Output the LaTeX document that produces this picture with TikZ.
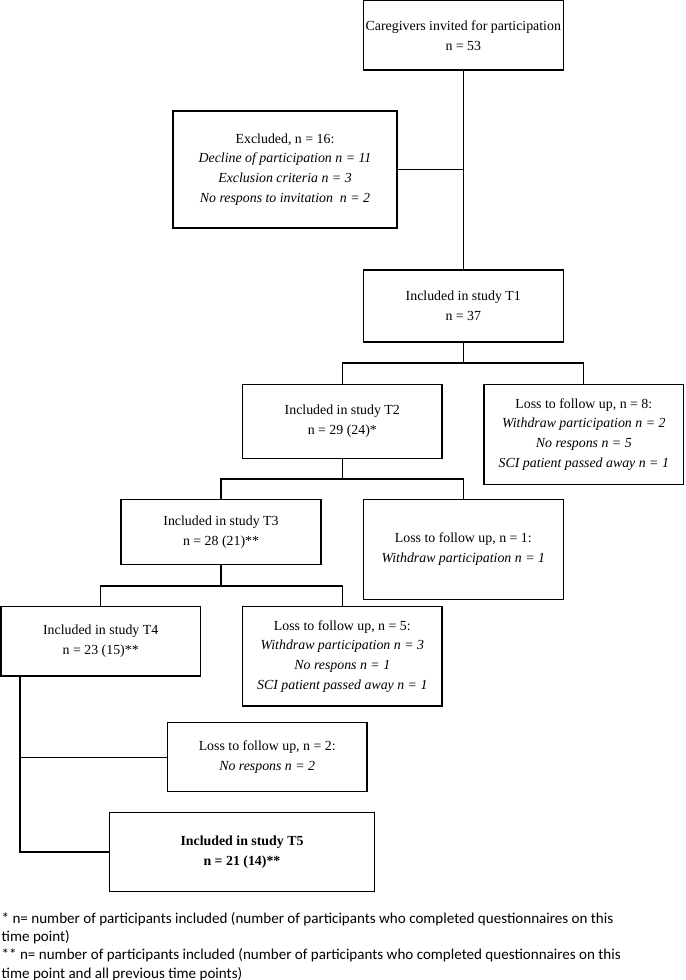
\documentclass[tikz,border=0pt]{standalone}
\usepackage{fontspec}
\setmainfont{Liberation Serif}
\newfontfamily\notefont{Carlito}

\begin{document}
\begin{tikzpicture}[x=0.75pt, y=-0.75pt, line width=1pt,
    flowbox/.style={draw, line width=1pt, align=center, inner sep=0pt,
      font=\fontsize{10.4}{14.8}\selectfont},
    note/.style={align=left, inner sep=0pt, anchor=north west,
      font=\notefont\fontsize{11.3}{13.75}\selectfont}]
  \useasboundingbox (0,0) rectangle (685,980);

  \node[flowbox, minimum width=150pt, minimum height=52pt] (invited) at (463.3,35.5)
    {Caregivers invited for participation\\ n = 53};
  \node[flowbox, minimum width=168pt, minimum height=87.75pt] (excluded) at (285,169.5)
    {Excluded, n = 16:\\ \textit{Decline of participation n = 11}\\
     \textit{Exclusion criteria n = 3}\\ \textit{No respons to invitation\ \ n = 2}};
  \node[flowbox, minimum width=150pt, minimum height=54pt] (t1) at (463.3,306)
    {Included in study T1\\ n = 37};
  \node[flowbox, minimum width=149.6pt, minimum height=55.5pt] (t2) at (342.3,421.3)
    {Included in study T2\\ n = 29 (24)*};
  \node[flowbox, minimum width=149.8pt, minimum height=75pt] (loss8) at (583.8,434.3)
    {Loss to follow up, n = 8:\\ \textit{Withdraw participation n = 2}\\
     \textit{No respons n = 5}\\ \textit{SCI patient passed away n = 1}};
  \node[flowbox, minimum width=150pt, minimum height=48.75pt] (t3) at (221,531.8)
    {Included in study T3\\ n = 28 (21)**};
  \node[flowbox, minimum width=150pt, minimum height=75pt] (loss1) at (463.3,549.3)
    {Loss to follow up, n = 1:\\ \textit{Withdraw participation n = 1}};
  \node[flowbox, minimum width=149.6pt, minimum height=52pt] (t4) at (100.7,641.3)
    {Included in study T4\\ n = 23 (15)**};
  \node[flowbox, minimum width=149.6pt, minimum height=74.5pt] (loss5) at (342.3,656.3)
    {Loss to follow up, n = 5:\\ \textit{Withdraw participation n = 3}\\
     \textit{No respons n = 1}\\ \textit{SCI patient passed away n = 1}};
  \node[flowbox, minimum width=149.8pt, minimum height=51.75pt] (loss2) at (267.2,757.2)
    {Loss to follow up, n = 2:\\ \textit{No respons n = 2}};
  \node[flowbox, minimum width=198.5pt, minimum height=59.5pt] (t5) at (242,852)
    {\textbf{Included in study T5}\\ \textbf{n = 21 (14)**}};

  \coordinate (j1) at (463.3,363);
  \coordinate (j2) at (342.3,479);
  \coordinate (j3) at (221,586);
  \coordinate (c4) at (20,676);

  \draw (invited) -- (t1);
  \draw (excluded.east) -- (excluded.east -| invited.south);
  \draw (t1) -- (j1);
  \draw (t2.north) |- (j1) -| (loss8.north);
  \draw (t2) -- (j2);
  \draw (t3.north) |- (j2) -| (loss1.north);
  \draw (t3) -- (j3);
  \draw (t4.north) |- (j3) -| (loss5.north);
  \draw (c4) |- (t5.west);
  \draw (c4 |- loss2.west) -- (loss2.west);

  \node[note] (notes) at (1,911.5)
    {* n= number of participants included (number of participants who completed questionnaires on this\\
     time point)\\
     ** n= number of participants included (number of participants who completed questionnaires on this\\
     time point and all previous time points)};
\end{tikzpicture}
\end{document}
